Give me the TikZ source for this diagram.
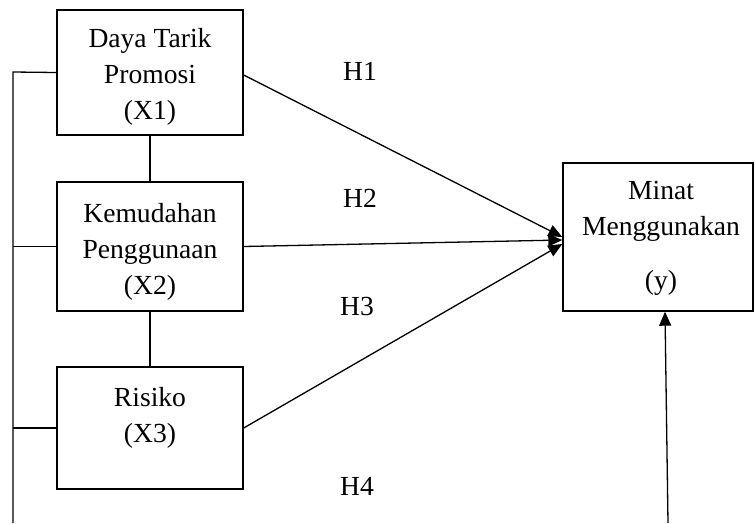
\documentclass[tikz,border=0pt]{standalone}
\usepackage{fontspec}
\setmainfont{Liberation Serif}
\usetikzlibrary{arrows.meta}
\begin{document}
\begin{tikzpicture}[x=1pt,y=-1pt,
  box/.style={draw,line width=1.4pt,inner sep=0pt},
  txt/.style={font=\fontsize{27.6}{36}\selectfont,align=center,anchor=base,inner sep=0pt},
  conn/.style={line width=1.3pt},
  arr/.style={line width=1.3pt,-{Triangle[length=14pt,width=12pt]}}]
\useasboundingbox (0,0) rectangle (755,523);
% boxes
\node[box,minimum width=186pt,minimum height=125pt] (X1) at (150,72.5) {};
\node[box,minimum width=186pt,minimum height=129pt] (X2) at (150,246.5) {};
\node[box,minimum width=186pt,minimum height=122pt] (X3) at (150,428) {};
\node[box,minimum width=190pt,minimum height=148pt] (Y) at (658,237) {};
% texts (anchor = baseline of last line)
\node[txt] (t1) at (150,119) {Daya Tarik\\Promosi\\(X1)};
\node[txt] (t2) at (150,294) {Kemudahan\\Penggunaan\\(X2)};
\node[txt] (t3) at (150,442) {Risiko\\(X3)};
\node[txt] (ty) at (661,289) {Minat\\Menggunakan\\[18pt](y)};
\node[txt] (h1) at (360,80) {H1};
\node[txt] (h2) at (360,207) {H2};
\node[txt] (h3) at (357,315) {H3};
\node[txt] (h4) at (357,495) {H4};
% left bus
\coordinate (bt) at (13,72);
\coordinate (bb) at (13,523);
\draw[conn] (X1.west) -- (bt) -- (bb);
\draw[conn] (X2.west) -- (X2.west -| bt);
\draw[conn] (X3.west) -- (X3.west -| bt);
% vertical links
\draw[conn] (X1.south) -- (X2.north);
\draw[conn] (X2.south) -- (X3.north);
% arrows to Y
\draw[arr] ([yshift=-2.5pt]X1.east) -- (Y.west);
\draw[arr] (X2.east) -- ([yshift=-3pt]Y.west);
\draw[arr] (X3.east) -- ([yshift=-7pt]Y.west);
% bottom arrow
\coordinate (yb) at (668,523);
\draw[arr] (yb) -- ([xshift=7pt]Y.south);
\end{tikzpicture}
\end{document}
